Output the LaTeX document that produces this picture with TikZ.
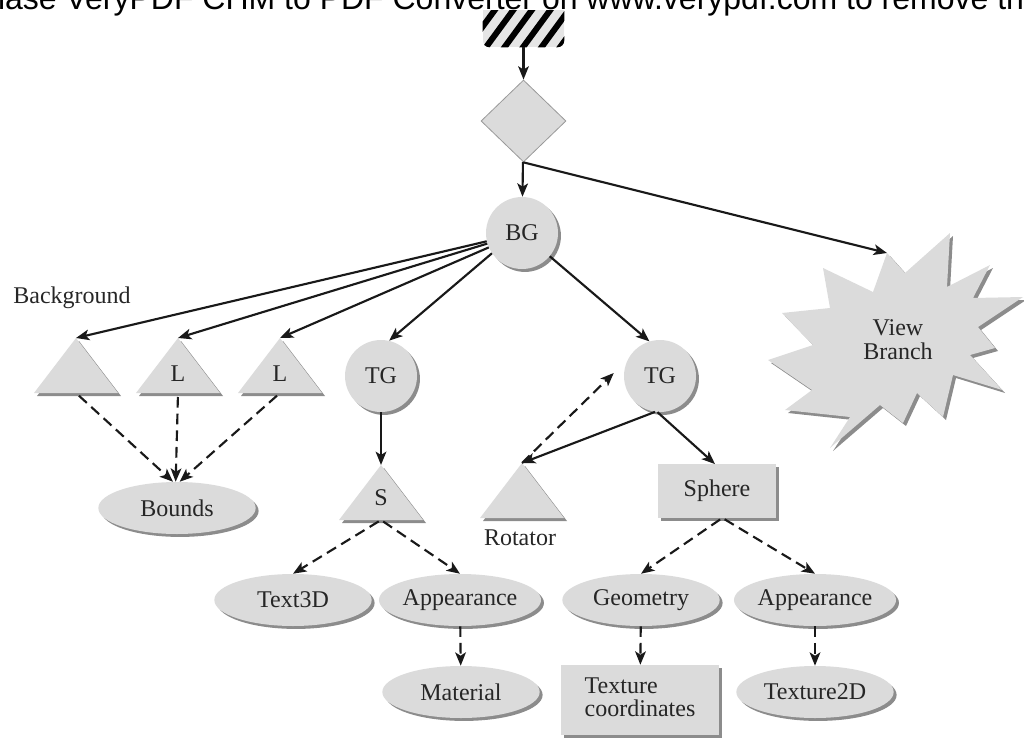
\documentclass[tikz,border=0pt]{standalone}
\usepackage{fontspec}
\setmainfont{Liberation Serif}
\newfontfamily\wmfont{Liberation Sans}
\usetikzlibrary{shapes.geometric,shadows,arrows.meta,calc}
\newcommand\lblfont{\fontsize{18}{18}\selectfont}
\newcommand\mytri[3]{%
  \fill[black!45] (#2+3,#3+3) -- (#2+45,#3+58) -- (#2-39,#3+58) -- cycle;
  \fill[black!14] (#2,#3) -- (#2+42,#3+55) -- (#2-42,#3+55) -- cycle;
  \coordinate (#1-apex) at (#2,#3);
  \coordinate (#1-base) at (#2,#3+55);
}
\tikzset{
  shp/.style={fill=black!14, draw=none, inner sep=0pt, font=\lblfont, text=black!85,
    drop shadow={shadow xshift=2.2pt, shadow yshift=-2.2pt, fill=black!45, opacity=1}},
  ell/.style={shp, ellipse, minimum width=118pt, minimum height=39pt},
  circ/.style={shp, circle, minimum size=54pt},
  boxn/.style={shp, rectangle},
  lbl/.style={font=\lblfont, text=black!85, inner sep=0pt},
  arr/.style={line width=1.6pt, black!90, -{Stealth[length=10pt,width=8pt,inset=2.5pt]}},
  darr/.style={arr, dash pattern=on 8pt off 4.5pt},
}
\begin{document}
\begin{tikzpicture}[x=0.75pt,y=-0.75pt]
\useasboundingbox (0,0) rectangle (1024,738);

% hatched start box
\node[rectangle, rounded corners=5pt, fill=black!10, minimum width=60.75pt, minimum height=33.75pt, inner sep=0pt] (hb) at (523.5,24.5) {};
\begin{scope}
  \clip[rounded corners=5pt] (hb.south west) rectangle (hb.north east);
  \foreach \k in {-3,...,5} {
    \draw[line width=4.5pt, black] (482.5+18.5*\k,52) -- ++(33,-45);
  }
\end{scope}
\fill[white] (0,-5) rectangle (1024,10);

% watermark
\node[anchor=base west, inner sep=0pt, font=\wmfont\fontsize{24}{24}\selectfont] (wm) at (-13,9.5) {hase VeryPDF CHM to PDF Converter on www.verypdf.com to remove th};

% diamond
\node[diamond, fill=black!14, draw=black!40, line width=0.6pt, minimum width=63.75pt, minimum height=61.5pt, inner sep=0pt] (dia) at (523.5,121) {};

% circles
\node[circ] (bg) at (522,233) {BG};
\node[circ] (tgl) at (381,376) {TG};
\node[circ] (tgr) at (660,376) {TG};

% triangles
\mytri{bgt}{76}{338}
\mytri{la}{178}{338}
\mytri{lb}{280}{338}
\mytri{st}{381}{465}
\mytri{rt}{522}{463}
\node[lbl] (la-t) at (178,374) {L};
\node[lbl] (lb-t) at (280,374) {L};
\node[lbl] (st-t) at (381,498) {S};
\node[lbl] (bglabel) at (72,298) {Background};
\node[lbl] (rotlabel) at (520,538) {Rotator};

% view branch star
\fill[black!45, shift={(3,3)}] (887,253) -- (905,273) -- (950,233) -- (947,287) -- (990,265) -- (973,298) -- (1023,297) -- (978,327) -- (995,348) -- (970,355) -- (1002,390) -- (953,375) -- (943,417) -- (917,393) -- (903,423) -- (880,405) -- (830,448) -- (850,417) -- (785,410) -- (812,390) -- (768,360) -- (813,345) -- (782,313) -- (830,308) -- (823,268) -- (873,292) -- cycle;
\fill[black!14] (887,253) -- (905,273) -- (950,233) -- (947,287) -- (990,265) -- (973,298) -- (1023,297) -- (978,327) -- (995,348) -- (970,355) -- (1002,390) -- (953,375) -- (943,417) -- (917,393) -- (903,423) -- (880,405) -- (830,448) -- (850,417) -- (785,410) -- (812,390) -- (768,360) -- (813,345) -- (782,313) -- (830,308) -- (823,268) -- (873,292) -- cycle;
\coordinate (vbtip) at (887,253);
\node[lbl, align=center] (vb) at (898,340) {View\\Branch};

% boxes
\node[boxn, minimum width=89pt, minimum height=40pt] (sph) at (717,491) {Sphere};
\node[boxn, minimum width=118pt, minimum height=52.5pt] (texc) at (640,700) {\begin{tabular}{@{}l@{}}Texture\\[-1pt]coordinates\end{tabular}};

% ellipses
\node[ell] (bounds) at (177,508) {Bounds};
\node[ell] (t3d) at (293,600) {Text3D};
\node[ell] (appl) at (460,600) {Appearance};
\node[ell] (mat) at (461,692) {Material};
\node[ell] (geo) at (641,600) {Geometry};
\node[ell] (appr) at (815,600) {Appearance};
\node[ell] (tex2d) at (815,692) {Texture2D};

% solid connectors
\draw[arr] (hb) -- (dia);
\draw[arr] (dia) -- (bg);
\draw[arr] (dia.south) -- (vbtip);
\draw[arr] (bg) -- (bgt-apex);
\draw[arr] (bg) -- (la-apex);
\draw[arr] (bg) -- (lb-apex);
\draw[arr] (bg.214) -- (tgl.77);
\draw[arr] (bg.320) -- (tgr.107);
\draw[arr] (tgl) -- (st-apex);
\draw[arr] (tgr.262) -- (rt-apex);
\draw[arr] (tgr.266) -- ([xshift=-1.5pt]sph.north);

% dashed connectors
\draw[darr, shorten <=3pt] (bgt-base) -- ([xshift=-3pt]bounds.north);
\draw[darr, shorten <=3pt] (la-base) -- ([xshift=-1pt]bounds.north);
\draw[darr, shorten <=3pt] (lb-base) -- ([xshift=2pt]bounds.north);
\draw[darr] (rt-apex) -- ($(tgr.west)+(-10,-3)$);
\draw[darr, shorten <=2pt] (st-base) -- (t3d.north);
\draw[darr, shorten <=2pt] (st-base) -- (appl.north);
\draw[darr] (appl) -- (mat);
\draw[darr, shorten <=2pt] ([xshift=4pt]sph.south) -- (geo.north);
\draw[darr, shorten <=2pt] ([xshift=4pt]sph.south) -- (appr.north);
\draw[darr] (geo) -- (texc);
\draw[darr] (appr) -- (tex2d);
\end{tikzpicture}
\end{document}
